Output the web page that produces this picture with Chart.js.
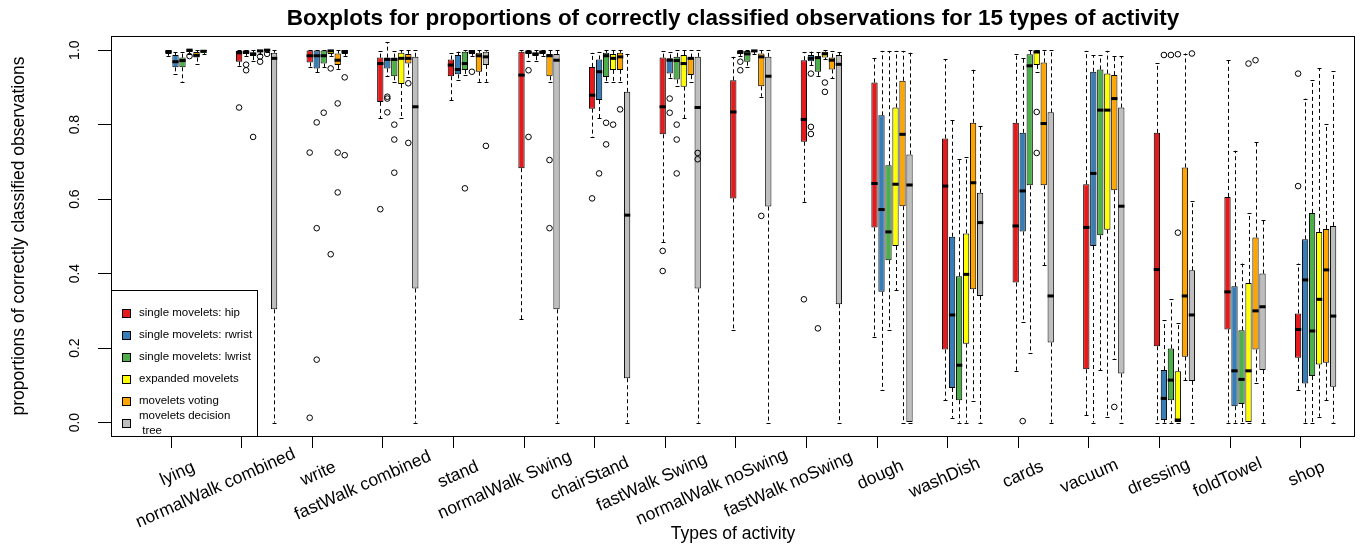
<!DOCTYPE html>
<html><head><meta charset="utf-8">
<script src="https://cdn.jsdelivr.net/npm/chart.js@4.4.1/dist/chart.umd.min.js"></script>
<style>html,body{margin:0;padding:0;background:#fff}#wrap{width:1360px;height:546px}</style>
</head><body><div id="wrap"><canvas id="c" width="1360" height="546"></canvas></div>
<script>
// ---------------- DATA ----------------
const categories = ["lying","normalWalk combined","write","fastWalk combined","stand","normalWalk Swing","chairStand","fastWalk Swing","normalWalk noSwing","fastWalk noSwing","dough","washDish","cards","vacuum","dressing","foldTowel","shop"];
const seriesNames = ["single movelets: hip","single movelets: rwrist","single movelets: lwrist","expanded movelets","movelets voting","movelets decision\n tree"];
const yTickValues = [0.0, 0.2, 0.4, 0.6, 0.8, 1.0];

// each entry: [lower whisker, Q1, median, Q3, upper whisker]
const hipStats = [[0.985,0.99,0.996,1.0,1.0],[0.958,0.969,0.993,0.998,1.0],[0.955,0.967,0.985,0.999,1.0],[0.817,0.861,0.964,0.98,0.998],[0.866,0.93,0.96,0.975,0.993],[0.277,0.683,0.933,0.996,1.0],[0.767,0.843,0.879,0.955,0.993],[0.485,0.774,0.848,0.98,0.998],[0.248,0.602,0.834,0.919,0.982],[0.591,0.754,0.814,0.973,0.995],[0.229,0.524,0.642,0.913,0.978],[0.06,0.196,0.635,0.763,0.975],[0.138,0.376,0.528,0.805,0.989],[0.02,0.143,0.524,0.64,0.998],[0.0,0.205,0.411,0.778,0.966],[0.0,0.25,0.351,0.606,0.973],[0.087,0.174,0.25,0.293,0.427]];
const rwristStats = [[0.937,0.954,0.969,0.987,0.995],[0.985,0.99,0.995,0.998,1.0],[0.94,0.951,0.985,0.999,1.0],[0.93,0.951,0.975,0.98,1.022],[0.92,0.935,0.948,0.987,0.996],[0.97,0.99,0.995,0.997,1.0],[0.817,0.866,0.942,0.975,0.995],[0.925,0.937,0.973,0.978,0.995],[0.985,0.99,0.995,0.997,1.0],[0.96,0.97,0.978,0.987,0.996],[0.087,0.351,0.572,0.825,0.998],[0.013,0.093,0.289,0.499,0.812],[0.269,0.513,0.622,0.778,0.978],[0.0,0.474,0.669,0.942,0.987],[0.0,0.007,0.065,0.141,0.275],[0.0,0.044,0.139,0.366,0.73],[0.0,0.105,0.383,0.492,0.87]];
const lwristStats = [[0.915,0.954,0.972,0.98,0.995],[0.97,0.984,0.99,0.993,1.0],[0.955,0.964,0.985,0.999,1.0],[0.915,0.93,0.975,0.98,0.998],[0.932,0.947,0.964,0.996,1.0],[0.97,0.984,0.99,0.993,1.0],[0.915,0.928,0.985,0.993,1.0],[0.905,0.921,0.972,0.982,1.0],[0.955,0.969,0.99,0.998,1.0],[0.93,0.942,0.98,0.982,0.995],[0.248,0.436,0.512,0.691,0.998],[0.0,0.06,0.154,0.393,0.709],[0.188,0.637,0.958,0.989,1.0],[0.141,0.503,0.839,0.948,0.987],[0.0,0.06,0.114,0.199,0.331],[0.0,0.05,0.116,0.248,0.427],[0.0,0.125,0.246,0.563,0.919]];
const expandedStats = [[0.99,0.995,1.0,1.0,1.0],[0.99,0.995,0.998,1.0,1.0],[0.985,0.99,0.998,1.0,1.0],[0.817,0.909,0.978,0.993,1.0],[0.985,0.99,0.996,1.0,1.0],[0.985,0.99,0.995,0.998,1.0],[0.915,0.947,0.978,0.99,1.0],[0.817,0.902,0.964,0.987,1.0],[0.99,0.995,0.998,1.0,1.0],[0.975,0.98,0.99,0.996,1.0],[0.356,0.474,0.64,0.846,0.998],[0.0,0.212,0.398,0.508,0.713],[0.94,0.96,0.995,1.0,1.0],[0.016,0.518,0.839,0.937,0.998],[0.0,0.0,0.007,0.138,0.268],[0.0,0.0,0.139,0.375,0.563],[0.016,0.156,0.331,0.512,0.951]];
const votingStats = [[0.964,0.98,0.986,0.995,1.0],[0.995,0.997,1.0,1.0,1.0],[0.95,0.96,0.973,0.991,1.0],[0.928,0.964,0.978,0.99,1.0],[0.915,0.942,0.985,0.993,1.0],[0.915,0.93,0.985,0.99,1.0],[0.915,0.947,0.982,0.993,1.0],[0.915,0.933,0.978,0.98,1.0],[0.875,0.903,0.982,0.991,1.0],[0.925,0.948,0.973,0.98,0.998],[0.0,0.581,0.774,0.918,0.998],[0.058,0.358,0.644,0.805,0.948],[0.423,0.637,0.803,0.967,1.0],[0.172,0.624,0.87,0.933,0.984],[0.114,0.177,0.34,0.685,0.991],[0.107,0.196,0.3,0.497,0.754],[0.06,0.161,0.41,0.52,0.801]];
const treeStats = [[0.99,0.993,0.997,1.0,1.0],[0.0,0.304,0.978,0.993,1.0],[0.985,0.99,0.996,1.0,1.0],[0.0,0.36,0.848,0.982,1.0],[0.915,0.96,0.982,0.996,1.0],[0.0,0.304,0.973,0.99,1.0],[0.0,0.119,0.557,0.888,0.99],[0.0,0.36,0.846,0.982,1.0],[0.0,0.58,0.93,0.982,1.0],[0.0,0.318,0.962,0.987,0.995],[0.0,0.0,0.638,0.72,0.993],[0.0,0.34,0.537,0.617,0.796],[0.0,0.215,0.34,0.833,1.0],[0.0,0.132,0.581,0.846,0.984],[0.0,0.112,0.289,0.409,0.596],[0.0,0.141,0.311,0.4,0.544],[0.0,0.096,0.286,0.528,0.944]];

// outliers per category
const hipOutliers = [[],[0.846],[0.725,0.013],[0.573],[],[],[0.602],[0.461,0.407],[],[0.331],[],[],[],[],[],[],[0.937,0.635]];
const rwristOutliers = [[],[0.961,0.946],[0.806,0.522,0.169],[0.875,0.87,0.833],[],[0.946,0.767],[0.669],[0.87,0.832],[0.969,0.946],[0.937,0.794,0.775],[],[],[0.004],[],[0.987],[],[]];
const lwristOutliers = [[],[0.767],[0.832],[0.80,0.76,0.671],[0.629],[],[0.805,0.747],[0.80,0.76,0.669],[],[0.253],[],[],[],[],[0.987],[],[]];
const expandedOutliers = [[0.984],[0.983,0.969],[0.951,0.452],[],[0.942],[],[0.80],[],[],[0.913,0.888],[],[],[0.834,0.724],[],[0.989,0.51],[0.964],[]];
const votingOutliers = [[],[0.99],[0.857,0.725,0.618],[0.911,0.751],[],[0.705,0.522],[0.841],[],[0.555],[],[],[],[],[0.042],[],[0.973],[]];
const treeOutliers = [[],[],[0.927,0.718],[],[0.743],[],[],[0.724,0.707],[],[],[],[],[],[],[0.991],[],[]];

// ---------------- STYLE ----------------
const seriesColors = ["#E41A1C","#377EB8","#4DAF4A","#FFFF00","#FFA500","#BEBEBE"];
const FONT = "'Liberation Sans', Arial, Helvetica, sans-serif";

const allStats = [hipStats, rwristStats, lwristStats, expandedStats, votingStats, treeStats];
const allOutliers = [hipOutliers, rwristOutliers, lwristOutliers, expandedOutliers, votingOutliers, treeOutliers];

const datasets = seriesNames.map((name, k) => ({
  label: name,
  data: allStats[k].map((s, i) => ({ x: i, y: [s[1], s[3]] })),
  backgroundColor: seriesColors[k],
  borderColor: "#000",
  borderWidth: 1,
  borderSkipped: false,
  categoryPercentage: 0.595,
  barPercentage: 0.9
}));

const boxExtras = {
  id: "boxExtras",
  beforeDatasetsDraw(chart) {
    const ctx = chart.ctx, ys = chart.scales.y;
    ctx.save();
    ctx.strokeStyle = "#000";
    ctx.lineWidth = 1;
    chart.data.datasets.forEach((ds, k) => {
      const meta = chart.getDatasetMeta(k);
      allStats[k].forEach((s, i) => {
        const el = meta.data[i];
        const x = Math.round(el.x) + 0.5;
        ctx.setLineDash([4, 3]);
        ctx.beginPath();
        ctx.moveTo(x, ys.getPixelForValue(s[3]));
        ctx.lineTo(x, ys.getPixelForValue(s[4]));
        ctx.moveTo(x, ys.getPixelForValue(s[1]));
        ctx.lineTo(x, ys.getPixelForValue(s[0]));
        ctx.stroke();
        ctx.setLineDash([]);
        ctx.beginPath();
        [s[0], s[4]].forEach(v => {
          const yy = Math.round(ys.getPixelForValue(v)) + 0.5;
          ctx.moveTo(x - 2, yy); ctx.lineTo(x + 2, yy);
        });
        ctx.stroke();
      });
    });
    ctx.restore();
  },
  afterDatasetsDraw(chart) {
    const ctx = chart.ctx, ys = chart.scales.y, xs = chart.scales.x, ca = chart.chartArea;
    ctx.save();
    // medians + outliers
    chart.data.datasets.forEach((ds, k) => {
      const meta = chart.getDatasetMeta(k);
      allStats[k].forEach((s, i) => {
        const el = meta.data[i];
        const w = el.width;
        ctx.fillStyle = "#000";
        ctx.fillRect(el.x - w / 2, ys.getPixelForValue(s[2]) - 1.5, w, 3);
        ctx.strokeStyle = "#000";
        ctx.lineWidth = 1;
        allOutliers[k][i].forEach(v => {
          ctx.beginPath();
          ctx.arc(el.x, ys.getPixelForValue(v), 2.8, 0, Math.PI * 2);
          ctx.stroke();
        });
      });
    });
    // legend
    const lw = 146, lh = 146;
    const lx = ca.left, ly = ca.bottom - lh;
    ctx.fillStyle = "#fff";
    ctx.fillRect(lx, ly, lw, lh);
    ctx.strokeStyle = "#000";
    ctx.lineWidth = 1;
    ctx.strokeRect(lx + 0.5, ly + 0.5, lw, lh);
    ctx.font = "11.5px " + FONT;
    ctx.textBaseline = "middle";
    ctx.textAlign = "left";
    chart.data.datasets.forEach((ds, k) => {
      const cy = ly + 23 + k * 22;
      ctx.fillStyle = ds.backgroundColor;
      ctx.fillRect(lx + 11, cy - 4, 8, 8);
      ctx.strokeStyle = "#000";
      ctx.strokeRect(lx + 11.5, cy - 3.5, 8, 8);
      ctx.fillStyle = "#000";
      const lines = ds.label.split("\n");
      lines.forEach((t, j) => {
        ctx.fillText(t, lx + 28, cy + (j - (lines.length - 1) / 2) * 15);
      });
    });
    // frame
    ctx.strokeStyle = "#000";
    ctx.lineWidth = 1;
    ctx.strokeRect(ca.left + 0.5, ca.top + 0.5, ca.right - ca.left - 1, ca.bottom - ca.top);
    // y tick labels (rotated, R style)
    ctx.fillStyle = "#000";
    ctx.font = "14px " + FONT;
    ctx.textAlign = "center";
    ctx.textBaseline = "middle";
    yTickValues.forEach(v => {
      ctx.save();
      ctx.translate(75, ys.getPixelForValue(v));
      ctx.rotate(-Math.PI / 2);
      ctx.fillText(v.toFixed(1), 0, 0);
      ctx.restore();
    });
    // x tick labels (rotated)
    ctx.font = "17.5px " + FONT;
    ctx.textAlign = "left";
    ctx.textBaseline = "middle";
    const ang = -24 * Math.PI / 180;
    categories.forEach((c, i) => {
      const w = ctx.measureText(c).width;
      ctx.save();
      ctx.translate(xs.getPixelForValue(i), 470);
      ctx.rotate(ang);
      ctx.fillText(c, -0.76 * w, 0);
      ctx.restore();
    });
    ctx.restore();
  }
};

Chart.defaults.font.family = FONT;
Chart.defaults.color = "#000";

new Chart(document.getElementById("c"), {
  type: "bar",
  data: { datasets },
  options: {
    responsive: false,
    animation: false,
    devicePixelRatio: 1,
    layout: { padding: { left: 0, right: 5, top: 0, bottom: 0 } },
    plugins: {
      legend: { display: false },
      tooltip: { enabled: false },
      title: {
        display: true,
        fullSize: false,
        text: "Boxplots for proportions of correctly classified observations for 15 types of activity",
        font: { size: 22.5, weight: "bold", family: FONT },
        color: "#000",
        lineHeight: 1.2,
        padding: { top: 5, bottom: 4 }
      }
    },
    scales: {
      x: {
        type: "linear",
        offset: false,
        min: -1.0623,
        max: 16.558,
        afterBuildTicks: s => { s.ticks = categories.map((c, i) => ({ value: i - 0.212 })); },
        afterFit: s => { s.height = 110; },
        ticks: { display: false },
        grid: { display: true, offset: false, drawOnChartArea: false, drawTicks: true, tickLength: 12, color: "#000", lineWidth: 1 },
        border: { display: false },
        title: { display: true, text: "Types of activity", font: { size: 17.5, family: FONT }, color: "#000", padding: { top: 0, bottom: 1 } }
      },
      y: {
        type: "linear",
        min: -0.036,
        max: 1.038,
        afterBuildTicks: s => { s.ticks = yTickValues.map(v => ({ value: v })); },
        afterFit: s => { s.width = 111; },
        ticks: { display: false },
        grid: { display: true, drawOnChartArea: false, drawTicks: true, tickLength: 13, color: "#000", lineWidth: 1 },
        border: { display: false },
        title: { display: true, text: "proportions of correctly classified observations", font: { size: 17.5, family: FONT }, color: "#000", padding: { top: 9, bottom: 0 } }
      }
    }
  },
  plugins: [boxExtras]
});
</script>
</body></html>
